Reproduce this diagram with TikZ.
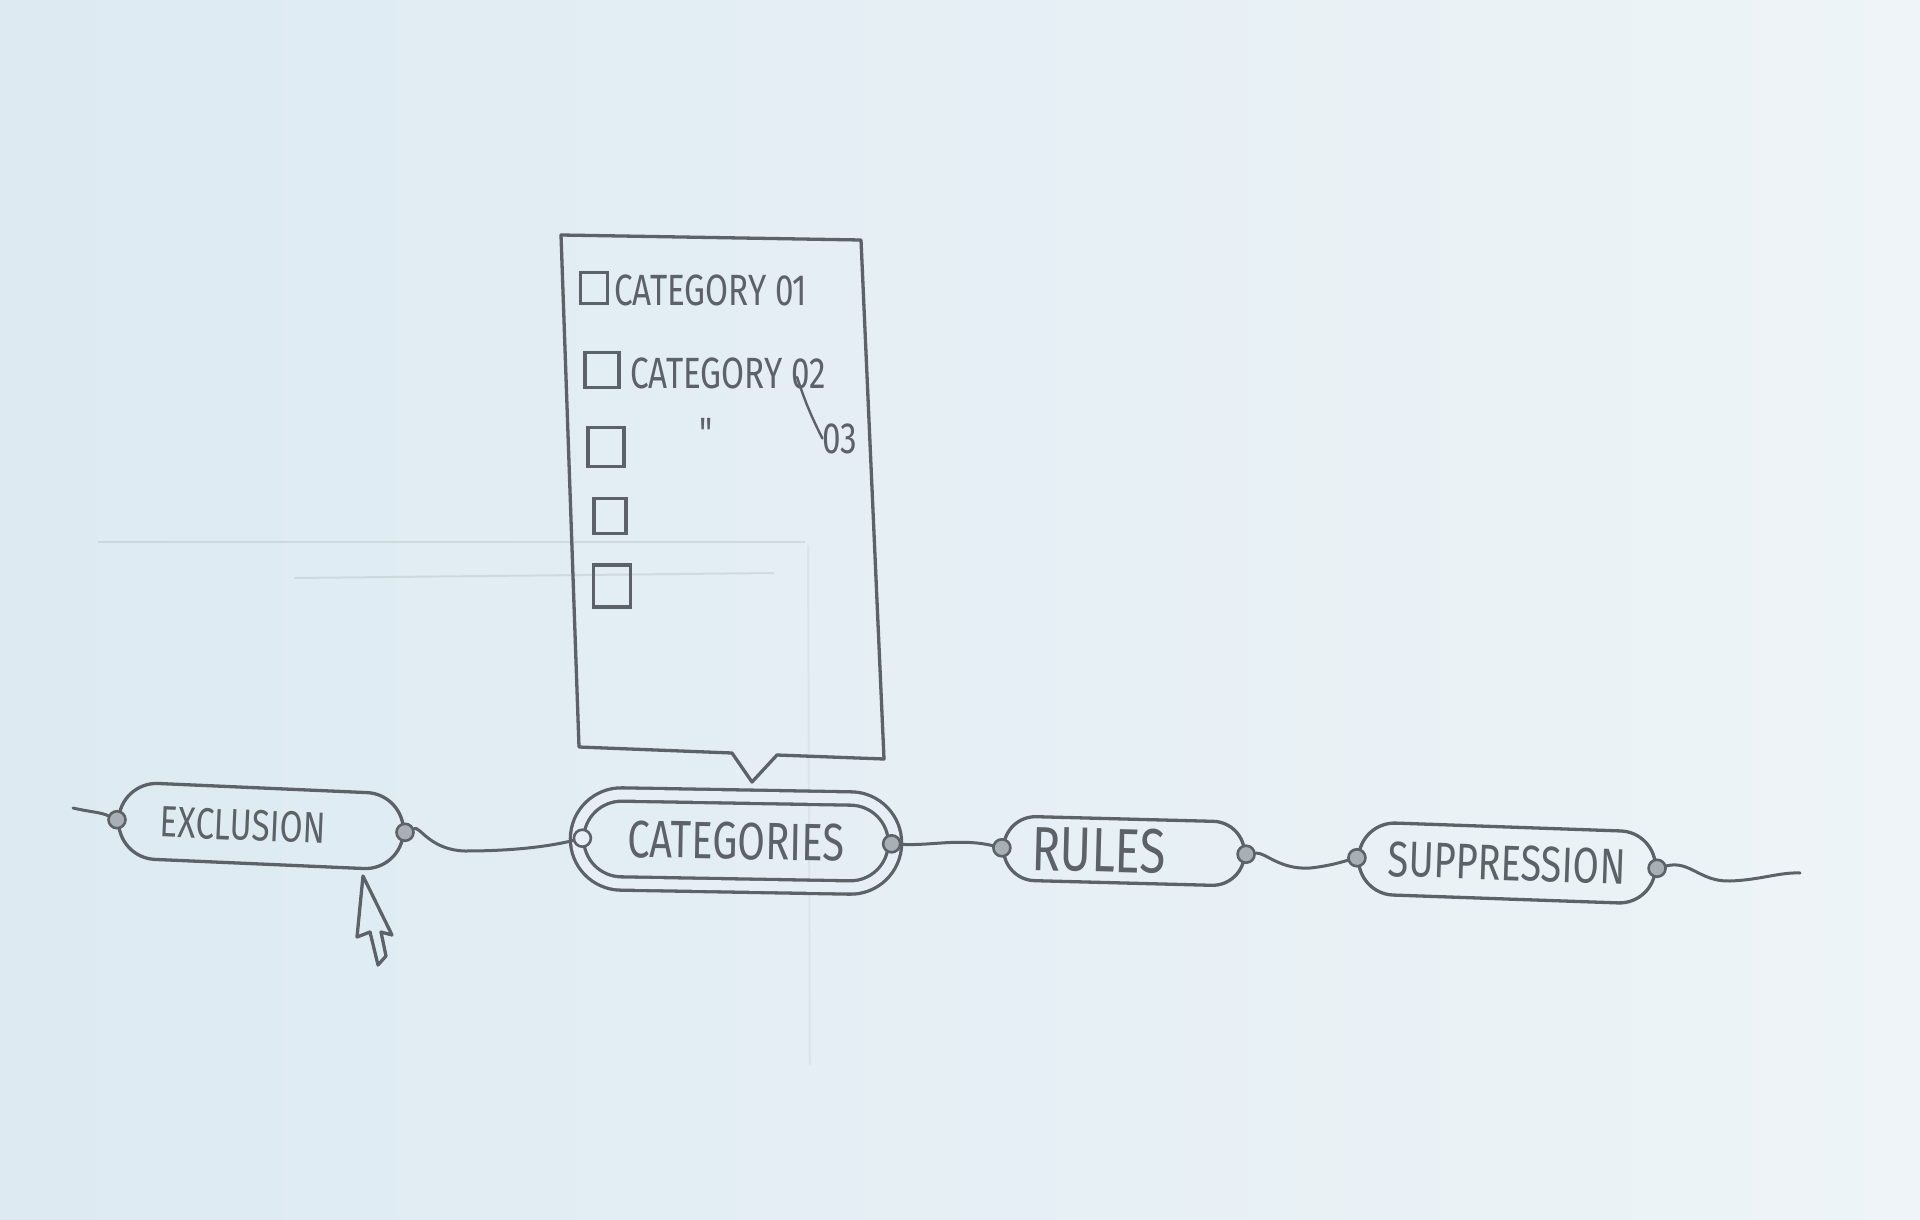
\documentclass[tikz,border=0pt]{standalone}
\usepackage{fontspec}
\setmainfont{Fira Sans}
\newfontfamily\plainfira{Fira Sans}
\usepackage{graphicx}
\usetikzlibrary{shapes.misc,calc}
\definecolor{pencil}{RGB}{92,98,104}
\definecolor{bg}{RGB}{230,239,245}
\definecolor{bgL}{RGB}{221,234,242}
\definecolor{bgR}{RGB}{238,244,247}
\newcommand{\hw}[1]{\scalebox{0.95}[1.25]{#1}}
\begin{document}
\begin{tikzpicture}[x=1pt,y=-1pt,
  pencilline/.style={draw=pencil, line width=3.3pt, line cap=round, line join=round},
  stadium/.style={rounded rectangle, pencilline, inner sep=0pt, text=pencil},
  port/.style={circle, draw=pencil, line width=2.6pt, fill=pencil!45!bg, inner sep=0pt, minimum size=17pt},
  wire/.style={pencilline, line width=3pt},
  checkbox/.style={rectangle, draw=pencil, line width=3.2pt, inner sep=0pt},
  itemtext/.style={text=pencil, inner sep=0pt, font=\fontsize{35}{39}\selectfont},
  faint/.style={draw=pencil, opacity=0.14, line width=2pt}]

\shade[left color=bgL, right color=bgR] (0,0) rectangle (1920,1220);
\useasboundingbox (0,0) rectangle (1920,1220);

% faint background pencil traces
\draw[faint] (98,542) -- (805,542);
\draw[faint] (294,578) -- (774,573);
\draw[faint, opacity=0.07] (808,545) -- (810,1065);

% pop-up list
\draw[pencilline] (561,235) -- (861,240) -- (884,759) -- (777,755) -- (752,782) -- (732,753) -- (579,747) -- cycle;

\node[checkbox, minimum width=27pt, minimum height=31pt] (b1) at (594,288) {};
\node[checkbox, minimum width=34pt, minimum height=35pt] (b2) at (602,370) {};
\node[checkbox, minimum width=36pt, minimum height=39pt] (b3) at (606,447) {};
\node[checkbox, minimum width=32pt, minimum height=35pt] (b4) at (610,516) {};
\node[checkbox, minimum width=37pt, minimum height=42pt] (b5) at (612,586) {};

\node[itemtext, anchor=base west] (c1) at (614,305) {\hw{CATEGORY 01}};
\node[itemtext, anchor=base west] (c2) at (630,388) {\hw{CATEGORY 02}};
\node[itemtext, anchor=base] (ditto) at (706,448) {\hw{\plainfira "}};
\node[itemtext, anchor=base] (c3) at (840,453) {\hw{03}};
\coordinate (lead) at (797,377);
\draw[pencilline, line width=2.4pt] (lead) .. controls (803,395) and (808,410) .. (c3.west);

% main nodes
\node[stadium, rotate=-2.5, minimum width=285pt, minimum height=76pt,
      font=\fontsize{35}{38}\selectfont] (exc) at (261,826) {\hw{EXCLUSION}\hspace*{36pt}};
\node[stadium, rotate=-1, minimum width=318pt, minimum height=89pt,
      double=bg, double distance=10pt,
      font=\fontsize{42}{46}\selectfont] (cat) at (736,841) {\hw{CATEGORIES}};
\node[stadium, rotate=-1.5, minimum width=241pt, minimum height=64pt,
      font=\fontsize{50}{54}\selectfont] (rul) at (1124,851) {\hw{RULES}\hspace*{50pt}};
\node[stadium, rotate=-2, minimum width=297pt, minimum height=72pt,
      font=\fontsize{40}{44}\selectfont] (sup) at (1507,863) {\hw{SUPPRESSION}};

% ports
\node[port] (exL) at (exc.west) {};
\node[port] (exR) at (exc.east) {};
\node[port, fill=bg] (catL) at ([xshift=7pt]cat.west) {};
\node[port] (catR) at ([xshift=-5pt]cat.east) {};
\node[port] (rulL) at (rul.west) {};
\node[port] (rulR) at (rul.east) {};
\node[port] (supL) at (sup.west) {};
\node[port] (supR) at (sup.east) {};

\coordinate (ltail) at (73,808);
\coordinate (rtail) at (1800,873);

% connectors
\draw[wire] (ltail) .. controls (90,812) and (100,812) .. (exL);
\draw[wire] (exR) .. controls (420,826) and (430,850) .. (465,851)
                  .. controls (520,851) and (555,845) .. (catL);
\draw[wire] (catR) .. controls (930,846) and (960,838) .. (rulL);
\draw[wire] (rulR) .. controls (1265,852) and (1280,870) .. (1310,868)
                   .. controls (1330,866) and (1345,861) .. (supL);
\draw[wire] (supR) .. controls (1690,860) and (1700,882) .. (1730,881)
                   .. controls (1760,880) and (1780,872) .. (rtail);

% hollow pointer arrow
\draw[pencilline] (363,876) -- (357,937) -- (370,932) -- (378,965) -- (386,956) -- (381,932) -- (392,935) -- cycle;

\end{tikzpicture}
\end{document}
